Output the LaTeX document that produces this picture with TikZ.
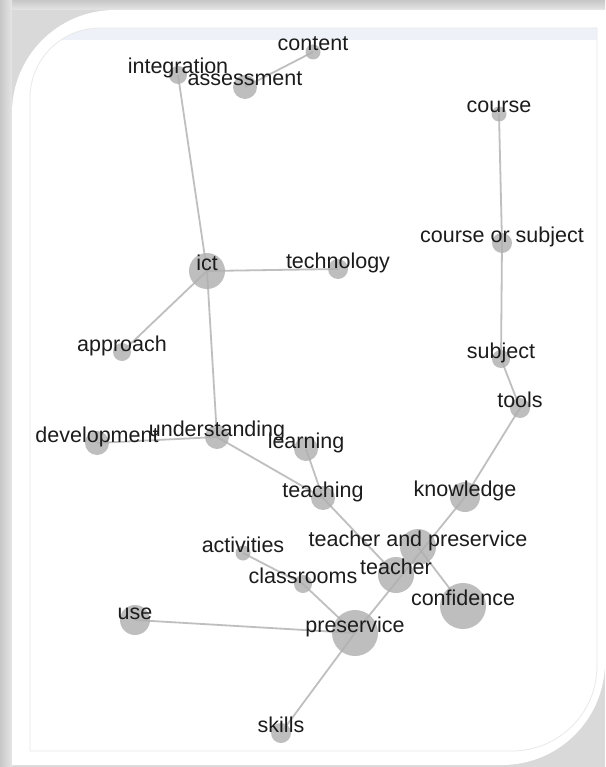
\documentclass[tikz,border=0pt]{standalone}
\usepackage{fontspec}
\setmainfont{Liberation Sans}
\usepackage{tkz-graph}
\usetikzlibrary{arrows}
\usetikzlibrary{shapes}

\definecolor{frameGray}{HTML}{D9D9D9}
\definecolor{innerLine}{HTML}{E8E8E8}
\definecolor{bandBlue}{HTML}{EEF2F8}
\definecolor{nodeGray}{HTML}{BEBEBE}
\definecolor{edgeGray}{HTML}{B0B0B0}
\definecolor{wordColor}{HTML}{1C1C1C}

\begin{document}
\begin{tikzpicture}[x = 1pt, y = -1pt]
	\useasboundingbox (0,0) rectangle (605,767);
	% panel and frame
	\fill[frameGray] (0,0) rectangle (605,767);
	\shade[top color = black!22, bottom color = black!10] (0,0) rectangle (605,10);
	\shade[left color = black!22, right color = black!10] (0,0) rectangle (12,767);
	\fill[white] (12,767) -- (12,113) arc[start angle = 180, end angle = 90, radius = 103pt] -- (605,10) -- (605,662) arc[start angle = 0, end angle = -90, radius = 103pt] -- (12,765) -- cycle;
	\begin{scope}
		\clip (30,751) -- (30,98) arc[start angle = 180, end angle = 90, radius = 70pt] -- (597,28) -- (597,666) arc[start angle = 0, end angle = -90, radius = 85pt] -- cycle;
		\fill[bandBlue] (30,28) rectangle (597,40);
	\end{scope}
	\draw[innerLine, line width = 0.8pt] (30,751) -- (30,98) arc[start angle = 180, end angle = 90, radius = 70pt] -- (597,28) -- (597,666) arc[start angle = 0, end angle = -90, radius = 85pt] -- cycle;
	% graph
	\tikzstyle{VertexStyle} = []
	\tikzstyle{EdgeStyle} = [draw = edgeGray, line width = 1.8pt, draw opacity = 0.8]
	\tikzstyle{LabelStyle} = []
	\tikzstyle{termStyle} = [shape = circle, inner sep = 0pt, fill = nodeGray]
	\tikzstyle{tinyStyle} = [termStyle, minimum size = 15pt]
	\tikzstyle{smallStyle} = [termStyle, minimum size = 18pt]
	\tikzstyle{normalStyle} = [termStyle, minimum size = 20pt]
	\tikzstyle{mediumStyle} = [termStyle, minimum size = 24pt]
	\tikzstyle{largeStyle} = [termStyle, minimum size = 30pt]
	\tikzstyle{bigStyle} = [termStyle, minimum size = 36pt]
	\tikzstyle{hugeStyle} = [termStyle, minimum size = 46pt]
	\tikzstyle{wordStyle} = [anchor = base, yshift = 1pt, inner sep = 0pt, text = wordColor, font = \fontsize{21.5}{24}\selectfont]
	\Vertex[style = tinyStyle, x = 313, y = 52, NoLabel]{content}
	\Vertex[style = mediumStyle, x = 245, y = 87, NoLabel]{assessment}
	\Vertex[style = smallStyle, x = 178, y = 75, NoLabel]{integration}
	\Vertex[style = tinyStyle, x = 499, y = 114, NoLabel]{course}
	\Vertex[style = normalStyle, x = 502, y = 243, NoLabel]{courseSub}
	\Vertex[style = bigStyle, x = 207, y = 271, NoLabel]{ict}
	\Vertex[style = normalStyle, x = 338, y = 269, NoLabel]{technology}
	\Vertex[style = smallStyle, x = 122, y = 352, NoLabel]{approach}
	\Vertex[style = smallStyle, x = 501, y = 359, NoLabel]{subject}
	\Vertex[style = normalStyle, x = 520, y = 408, NoLabel]{tools}
	\Vertex[style = mediumStyle, x = 97, y = 443, NoLabel]{development}
	\Vertex[style = mediumStyle, x = 217, y = 437, NoLabel]{understanding}
	\Vertex[style = mediumStyle, x = 306, y = 449, NoLabel]{learning}
	\Vertex[style = mediumStyle, x = 323, y = 498, NoLabel]{teaching}
	\Vertex[style = largeStyle, x = 465, y = 497, NoLabel]{knowledge}
	\Vertex[style = tinyStyle, x = 243, y = 553, NoLabel]{activities}
	\Vertex[style = bigStyle, x = 418, y = 547, NoLabel]{teacherPre}
	\Vertex[style = smallStyle, x = 303, y = 584, NoLabel]{classrooms}
	\Vertex[style = bigStyle, x = 396, y = 575, NoLabel]{teacher}
	\Vertex[style = hugeStyle, x = 463, y = 606, NoLabel]{confidence}
	\Vertex[style = largeStyle, x = 135, y = 620, NoLabel]{use}
	\Vertex[style = hugeStyle, x = 355, y = 633, NoLabel]{preservice}
	\Vertex[style = normalStyle, x = 281, y = 733, NoLabel]{skills}
	\Edge(content.center)(assessment.center)
	\Edge(integration.center)(ict.center)
	\Edge(ict.center)(technology.center)
	\Edge(ict.center)(approach.center)
	\Edge(ict.center)(understanding.center)
	\Edge(understanding.center)(development.center)
	\Edge(understanding.center)(teaching.center)
	\Edge(learning.center)(teaching.center)
	\Edge(teaching.center)(teacher.center)
	\Edge(course.center)(courseSub.center)
	\Edge(courseSub.center)(subject.center)
	\Edge(subject.center)(tools.center)
	\Edge(tools.center)(knowledge.center)
	\Edge(knowledge.center)(preservice.center)
	\Edge(teacherPre.center)(confidence.center)
	\Edge(activities.center)(classrooms.center)
	\Edge(classrooms.center)(preservice.center)
	\Edge(use.center)(preservice.center)
	\Edge(preservice.center)(skills.center)
	\node[wordStyle] (contentW) at (content) {content};
	\node[wordStyle] (assessmentW) at (assessment) {assessment};
	\node[wordStyle] (integrationW) at (integration) {integration};
	\node[wordStyle] (courseW) at (course) {course};
	\node[wordStyle] (courseSubW) at (courseSub) {course or subject};
	\node[wordStyle] (ictW) at (ict) {ict};
	\node[wordStyle] (technologyW) at (technology) {technology};
	\node[wordStyle] (approachW) at (approach) {approach};
	\node[wordStyle] (subjectW) at (subject) {subject};
	\node[wordStyle] (toolsW) at (tools) {tools};
	\node[wordStyle] (developmentW) at (development) {development};
	\node[wordStyle] (understandingW) at (understanding) {understanding};
	\node[wordStyle] (learningW) at (learning) {learning};
	\node[wordStyle] (teachingW) at (teaching) {teaching};
	\node[wordStyle] (knowledgeW) at (knowledge) {knowledge};
	\node[wordStyle] (activitiesW) at (activities) {activities};
	\node[wordStyle] (teacherPreW) at (teacherPre) {teacher and preservice};
	\node[wordStyle] (classroomsW) at (classrooms) {classrooms};
	\node[wordStyle] (teacherW) at (teacher) {teacher};
	\node[wordStyle] (confidenceW) at (confidence) {confidence};
	\node[wordStyle] (useW) at (use) {use};
	\node[wordStyle] (preserviceW) at (preservice) {preservice};
	\node[wordStyle] (skillsW) at (skills) {skills};
\end{tikzpicture}
\end{document}
